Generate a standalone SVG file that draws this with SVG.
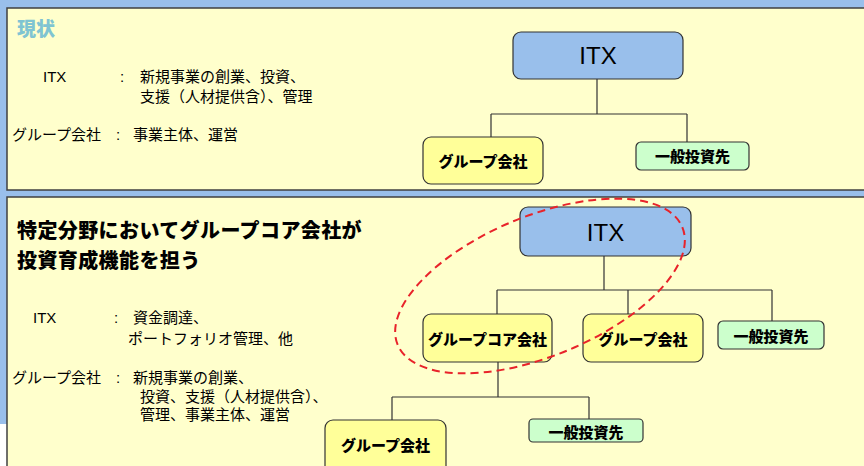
<svg xmlns="http://www.w3.org/2000/svg" width="864" height="466" viewBox="0 0 864 466">
  <style>
    .panel { fill: #FFFFCC; stroke: #404040; stroke-width: 1.5; }
    .box { stroke: #333333; stroke-width: 1.2; }
    .itx { fill: #99BFEB; }
    .grp { fill: #FFFF99; }
    .inv { fill: #CCFFCC; }
    .line { fill: none; stroke: #333333; stroke-width: 1.2; }
    .body { font-family: "Liberation Sans", "Noto Sans CJK JP", sans-serif; font-size: 15px; fill: #000000; }
    .label { font-family: "Noto Sans CJK JP", sans-serif; font-size: 15px; font-weight: 900; fill: #000000; text-anchor: middle; }
    .big { font-family: "Liberation Sans", "Noto Sans CJK JP", sans-serif; font-size: 24px; fill: #000000; text-anchor: middle; }
    .head { font-family: "Noto Sans CJK JP", sans-serif; font-weight: 900; }
  </style>

  <!-- backdrop -->
  <rect x="0" y="0" width="864" height="466" fill="#99BFEB"/>
  <rect x="0" y="424" width="10" height="42" fill="#FFFFFF"/>

  <!-- panels -->
  <rect class="panel" x="7" y="8" width="870" height="182"/>
  <rect class="panel" x="7" y="197" width="870" height="290"/>

  <!-- upper panel text -->
  <g id="upper-text">
    <text class="head" x="17" y="36" font-size="19" fill="#7FC4D2">現状</text>
    <text class="body" x="43" y="82">ITX</text>
    <text class="body" x="120" y="82">:</text>
    <text class="body" x="140" y="82">新規事業の創業、投資、</text>
    <text class="body" x="140" y="102">支援（人材提供含）、管理</text>
    <text class="body" x="12" y="140">グループ会社</text>
    <text class="body" x="116" y="140">:</text>
    <text class="body" x="133" y="140">事業主体、運営</text>
  </g>

  <!-- lower panel text -->
  <g id="lower-text">
    <text class="head" x="17" y="238" font-size="20" fill="#000000" letter-spacing="0.4">特定分野においてグループコア会社が</text>
    <text class="head" x="17" y="268" font-size="20" fill="#000000" letter-spacing="0.4">投資育成機能を担う</text>
    <text class="body" x="33" y="323">ITX</text>
    <text class="body" x="114" y="323">:</text>
    <text class="body" x="133" y="323">資金調達、</text>
    <text class="body" x="128" y="344">ポートフォリオ管理、他</text>
    <text class="body" x="12" y="383">グループ会社</text>
    <text class="body" x="116" y="383">:</text>
    <text class="body" x="133" y="383">新規事業の創業、</text>
    <text class="body" x="140" y="402">投資、支援（人材提供含）、</text>
    <text class="body" x="140" y="420">管理、事業主体、運営</text>
  </g>

  <!-- connectors -->
  <g id="connectors">
    <path class="line" d="M597,79 V114 M491,114 H687 M491,114 V137 M687,114 V142"/>
    <path class="line" d="M604,256 V290 M497,290 H772 M497,290 V314 M628,290 V314 M772,290 V321"/>
    <path class="line" d="M498,362 V397 M392,397 H589 M392,397 V420 M589,397 V419"/>
  </g>

  <!-- upper chart nodes -->
  <g id="itx-top">
    <rect class="box itx" x="513" y="32" width="170" height="47" rx="8"/>
    <text class="big" x="598" y="64">ITX</text>
  </g>
  <g id="group-top">
    <rect class="box grp" x="423" y="137" width="120" height="47" rx="8"/>
    <text class="label" x="483" y="167">グループ会社</text>
  </g>
  <g id="invest-top">
    <rect class="box inv" x="636" y="142" width="113" height="28" rx="5"/>
    <text class="label" x="692.5" y="162">一般投資先</text>
  </g>

  <!-- lower chart nodes -->
  <g id="itx-bottom">
    <rect class="box itx" x="520" y="207" width="171" height="49" rx="8"/>
    <text class="big" x="605.5" y="241">ITX</text>
  </g>
  <g id="core">
    <rect class="box grp" x="423" y="314" width="129" height="48" rx="8"/>
    <text class="label" x="487.5" y="345">グループコア会社</text>
  </g>
  <g id="group-bottom">
    <rect class="box grp" x="583" y="314" width="120" height="48" rx="8"/>
    <text class="label" x="643" y="345">グループ会社</text>
  </g>
  <g id="invest-bottom">
    <rect class="box inv" x="718" y="321" width="106" height="28" rx="5"/>
    <text class="label" x="771" y="342">一般投資先</text>
  </g>
  <g id="group-sub">
    <rect class="box grp" x="325" y="420" width="121" height="60" rx="8"/>
    <text class="label" x="385.5" y="451">グループ会社</text>
  </g>
  <g id="invest-sub">
    <rect class="box inv" x="529" y="419" width="114" height="23" rx="4"/>
    <text class="label" x="586" y="438">一般投資先</text>
  </g>

  <!-- highlight ring -->
  <g id="highlight">
    <ellipse cx="540" cy="286" rx="154" ry="70" transform="rotate(-22.4 540 286)" fill="none" stroke="#E8232A" stroke-width="2" stroke-dasharray="8 5"/>
  </g>
</svg>
